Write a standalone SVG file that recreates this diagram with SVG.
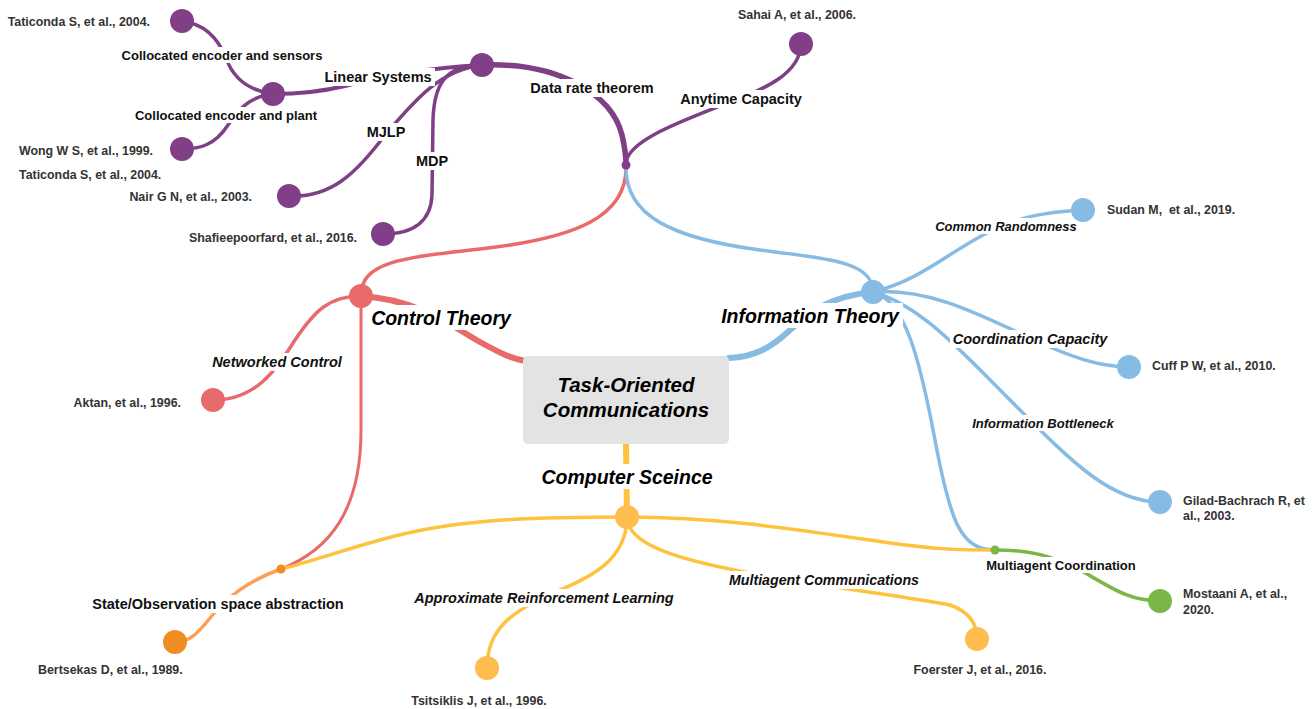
<svg xmlns="http://www.w3.org/2000/svg" width="1316" height="709" viewBox="0 0 1316 709">
<style>
.e{fill:none;stroke-linecap:round}
.p{stroke:#7f3f87}
.r{stroke:#e96a6a}
.b{stroke:#86bbe4}
.y{stroke:#fdc33f}
.g{stroke:#7ab648}
.o{stroke:#ff9f55}
.bg{fill:#ffffff}
.leaf{font-family:"Liberation Sans",Arial,sans-serif;font-weight:bold;font-size:12.4px;fill:#333333}
.lab{font-family:"Liberation Sans",Arial,sans-serif;font-weight:bold;font-size:14.5px;fill:#111111;text-anchor:middle}
.labs{font-family:"Liberation Sans",Arial,sans-serif;font-weight:bold;font-size:13px;fill:#111111;text-anchor:middle}
.it{font-style:italic}
.big{font-family:"Liberation Sans",Arial,sans-serif;font-weight:bold;font-style:italic;font-size:19.5px;fill:#000000;text-anchor:middle}
</style>
<rect width="1316" height="709" fill="#ffffff"/>
<g id="connectors">
  <path class="e p" stroke-width="5.5" d="M482,65 C560,62 612,95 622,135 C625,148 626,158 626,165"/>
  <path class="e p" stroke-width="3.5" d="M626,162 C630,140 680,122 720,106 C770,88 800,72 801,44"/>
  <path class="e p" stroke-width="4" d="M482,65 C420,68 380,78 345,86 C320,92 295,94 273,94"/>
  <path class="e p" stroke-width="3.5" d="M482,65 C440,70 415,100 385,135 C355,175 330,198 289,196"/>
  <path class="e p" stroke-width="3.5" d="M482,65 C445,65 434,85 433,120 L432,195 C431,220 415,234 383,234"/>
  <path class="e p" stroke-width="3.5" d="M273,94 C245,90 232,75 226,58 C218,38 205,24 182,21"/>
  <path class="e p" stroke-width="3.5" d="M273,94 C250,96 238,110 228,125 C215,145 200,149 182,149"/>
  <path class="e r" stroke-width="3.5" d="M626,168 C626,215 580,238 480,249 C400,258 361,262 361,296"/>
  <path class="e r" stroke-width="6" d="M361,296 C420,300 450,325 480,342 C500,353 510,358 525,361"/>
  <path class="e r" stroke-width="3.5" d="M361,296 C330,296 315,310 295,340 C275,372 255,400 213,400"/>
  <path class="e r" stroke-width="3" d="M361,296 L361,430 C361,510 330,550 281,569"/>
  <path class="e b" stroke-width="3.5" d="M626,168 C626,215 670,238 760,250 C830,259 873,262 873,292"/>
  <path class="e b" stroke-width="6" d="M873,292 C830,296 810,312 790,330 C772,347 755,357 729,358"/>
  <path class="e b" stroke-width="3.5" d="M873,292 C920,280 945,255 985,234 C1020,215 1050,212 1083,210"/>
  <path class="e b" stroke-width="3.5" d="M873,292 C930,288 980,315 1030,338 C1070,357 1100,367 1129,367"/>
  <path class="e b" stroke-width="3.5" d="M873,292 C920,305 960,350 1010,400 C1070,460 1110,502 1160,502"/>
  <path class="e b" stroke-width="3.5" d="M873,292 C905,300 920,360 935,440 C950,520 960,550 995,550"/>
  <path class="e g" stroke-width="3.5" d="M995,550 C1030,550 1050,555 1080,570 C1115,590 1130,601 1160,601"/>
  <path class="e y" stroke-width="6" d="M626,444 L627,517"/>
  <path class="e y" stroke-width="3.5" d="M627,517 C520,517 450,520 380,540 C330,554 300,565 281,569"/>
  <path class="e y" stroke-width="3.5" d="M627,517 C720,517 800,530 890,543 C940,550 965,550 995,550"/>
  <path class="e y" stroke-width="3.5" d="M627,517 C627,560 590,578 555,592 C510,612 487,630 487,668"/>
  <path class="e y" stroke-width="3.5" d="M627,517 C627,545 680,560 750,573 C830,588 900,595 950,605 C970,612 977,625 977,639"/>
  <path class="e o" stroke-width="3.5" d="M281,569 C250,580 225,598 210,618 C198,633 190,642 175,642"/>
</g>
<g id="edge-label-bg">
  <rect class="bg" x="121" y="47" width="202" height="16"/>
  <rect class="bg" x="134" y="107" width="184" height="16"/>
  <rect class="bg" x="321" y="68" width="114" height="18"/>
  <rect class="bg" x="364" y="123" width="44" height="18"/>
  <rect class="bg" x="413" y="152" width="38" height="18"/>
  <rect class="bg" x="527" y="79" width="130" height="18"/>
  <rect class="bg" x="677" y="90" width="128" height="18"/>
  <rect class="bg" x="368" y="305" width="146" height="25"/>
  <rect class="bg" x="717" y="303" width="186" height="25"/>
  <rect class="bg" x="209" y="353" width="136" height="18"/>
  <rect class="bg" x="538" y="464" width="178" height="25"/>
  <rect class="bg" x="933" y="218" width="146" height="16"/>
  <rect class="bg" x="950" y="330" width="161" height="18"/>
  <rect class="bg" x="970" y="415" width="146" height="16"/>
  <rect class="bg" x="411" y="589" width="265" height="18"/>
  <rect class="bg" x="724" y="571" width="200" height="18"/>
  <rect class="bg" x="984" y="557" width="154" height="16"/>
  <rect class="bg" x="89" y="595" width="257" height="18"/>
</g>
<g id="edge-labels">
  <text class="labs" x="222" y="59.5">Collocated encoder and sensors</text>
  <text class="labs" x="226" y="119.5">Collocated encoder and plant</text>
  <text class="lab" x="378" y="82">Linear Systems</text>
  <text class="lab" x="386" y="137">MJLP</text>
  <text class="lab" x="432" y="166">MDP</text>
  <text class="lab" x="592" y="93">Data rate theorem</text>
  <text class="lab" x="741" y="104">Anytime Capacity</text>
  <text class="big" x="441" y="325">Control Theory</text>
  <text class="big" x="810" y="323">Information Theory</text>
  <text class="lab it" x="277" y="367">Networked Control</text>
  <text class="big" x="627" y="484">Computer Sceince</text>
  <text class="labs it" x="1006" y="230.5">Common Randomness</text>
  <text class="lab it" x="1030" y="344">Coordination Capacity</text>
  <text class="labs it" x="1043" y="427.5">Information Bottleneck</text>
  <text class="lab it" x="544" y="603">Approximate Reinforcement Learning</text>
  <text class="lab it" x="824" y="585" style="font-size:14.2px">Multiagent Communications</text>
  <text class="labs" x="1061" y="569.5">Multiagent Coordination</text>
  <text class="lab" x="218" y="609">State/Observation space abstraction</text>
</g>
<g id="node-center">
  <rect x="523" y="356" width="206" height="88" rx="5" fill="#e3e3e3"/>
  <text class="big" x="626" y="392" style="font-size:20.5px">Task-Oriented</text>
  <text class="big" x="626" y="417" style="font-size:20.5px">Communications</text>
</g>
<g id="node-purple-hub"><circle cx="482" cy="65" r="12" fill="#803f87"/></g>
<g id="node-purple-junction"><circle cx="626" cy="165" r="4.5" fill="#803f87"/></g>
<g id="node-linear"><circle cx="273" cy="94" r="12" fill="#803f87"/></g>
<g id="node-taticonda1"><circle cx="182" cy="21" r="12" fill="#803f87"/><text class="leaf" x="150" y="26" text-anchor="end">Taticonda S, et al., 2004.</text></g>
<g id="node-wong"><circle cx="182" cy="149" r="12" fill="#803f87"/><text class="leaf" x="19" y="155">Wong W S, et al., 1999.</text><text class="leaf" x="19" y="179">Taticonda S, et al., 2004.</text></g>
<g id="node-nair"><circle cx="289" cy="196" r="12" fill="#803f87"/><text class="leaf" x="252" y="201" text-anchor="end">Nair G N, et al., 2003.</text></g>
<g id="node-shafiee"><circle cx="383" cy="234" r="12" fill="#803f87"/><text class="leaf" x="357" y="242" text-anchor="end">Shafieepoorfard, et al., 2016.</text></g>
<g id="node-sahai"><circle cx="801" cy="44" r="12" fill="#803f87"/><text class="leaf" x="797" y="19" text-anchor="middle">Sahai A, et al., 2006.</text></g>
<g id="node-control"><circle cx="361" cy="296" r="12" fill="#e96a6a"/></g>
<g id="node-aktan"><circle cx="213" cy="400" r="12" fill="#e96a6a"/><text class="leaf" x="181" y="407" text-anchor="end">Aktan, et al., 1996.</text></g>
<g id="node-orange-junction"><circle cx="281" cy="569" r="4.5" fill="#ef8d22"/></g>
<g id="node-bertsekas"><circle cx="175" cy="642" r="12" fill="#ef8d22"/><text class="leaf" x="38" y="674">Bertsekas D, et al., 1989.</text></g>
<g id="node-info"><circle cx="873" cy="292" r="12" fill="#86bbe4"/></g>
<g id="node-sudan"><circle cx="1083" cy="210" r="12" fill="#86bbe4"/><text class="leaf" x="1107" y="214" xml:space="preserve">Sudan M,  et al., 2019.</text></g>
<g id="node-cuff"><circle cx="1129" cy="367" r="12" fill="#86bbe4"/><text class="leaf" x="1152" y="370">Cuff P W, et al., 2010.</text></g>
<g id="node-gilad"><circle cx="1160" cy="502" r="12" fill="#86bbe4"/><text class="leaf" x="1183" y="505">Gilad-Bachrach R, et</text><text class="leaf" x="1183" y="520">al., 2003.</text></g>
<g id="node-green-junction"><circle cx="995" cy="550" r="4.5" fill="#7ab648"/></g>
<g id="node-mostaani"><circle cx="1160" cy="601" r="12" fill="#7ab648"/><text class="leaf" x="1183" y="598">Mostaani A, et al.,</text><text class="leaf" x="1183" y="614">2020.</text></g>
<g id="node-cs"><circle cx="627" cy="517" r="12" fill="#ffbc4f"/></g>
<g id="node-tsitsiklis"><circle cx="487" cy="668" r="12" fill="#ffbc4f"/><text class="leaf" x="479" y="705" text-anchor="middle">Tsitsiklis J, et al., 1996.</text></g>
<g id="node-foerster"><circle cx="977" cy="639" r="12" fill="#ffbc4f"/><text class="leaf" x="980" y="674" text-anchor="middle">Foerster J, et al., 2016.</text></g>
</svg>
